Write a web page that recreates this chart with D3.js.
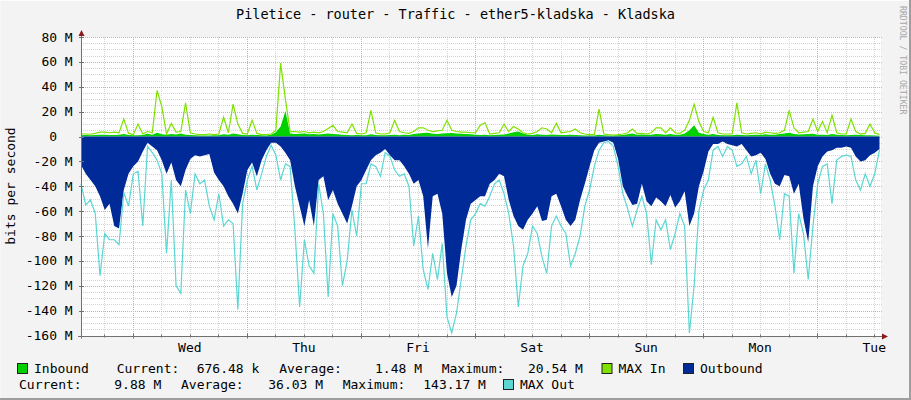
<!DOCTYPE html>
<html><head><meta charset="utf-8">
<script src="https://cdn.jsdelivr.net/npm/d3@7"></script>
<style>
html,body{margin:0;padding:0;background:#f3f3f3;}
svg{display:block;}
text{font-family:"DejaVu Sans Mono",monospace;fill:#000;}
</style>
</head><body>
<svg id="c" width="911" height="400"></svg>
<script>
// ---- data (Mbit/s, hourly samples, one week) ----
const outbound = [23,30,35,40,48,59,54,72,74,43,
30,24,20,12,5,8,11,19,30,21,
35,40,27,18,15,16,15,14,29,35,
40,48,54,62,46,27,21,32,19,11,
5,5,8,13,19,40,56,72,51,72,
35,32,51,43,54,62,70,56,40,35,
27,19,15,13,10,15,19,19,24,30,
38,35,48,90,48,46,62,110,129,120,
91,67,54,51,48,48,38,35,30,32,
51,64,72,75,67,62,56,68,67,48,
46,56,67,72,67,51,38,24,11,5,
4,3,5,18,40,48,55,54,38,52,
56,49,52,56,47,57,52,44,72,62,
40,28,12,6,6,4,6,7,8,6,
11,16,15,13,18,30,38,40,31,32,
46,38,66,85,40,24,16,12,11,9,
9,8,9,16,20,19,15,13,10];
const maxOut = [38,55,51,62,112,78,83,83,87,45,
56,30,28,72,8,13,19,30,94,35,
120,126,43,62,30,38,35,56,67,46,
72,67,70,139,54,35,24,43,30,16,
7,15,35,22,24,75,137,83,104,110,
38,62,129,62,72,120,100,59,80,38,
38,22,24,32,13,16,27,32,30,40,
88,64,107,123,94,115,86,145,158,142,
115,88,67,62,54,56,48,38,35,46,
62,88,137,104,94,72,78,97,110,72,
64,72,78,104,94,80,56,43,24,11,
5,4,8,24,46,58,72,59,48,62,
103,67,75,67,91,78,62,72,158,120,
60,43,35,11,8,16,8,11,24,22,
16,30,19,46,22,35,56,83,46,48,
110,62,78,115,72,38,24,22,54,19,
16,15,16,35,43,30,40,30,11];
const inbound = [1.0,1.2,1.1,1.3,1.5,1.4,1.2,1.3,1.5,2.0,
1.2,1.0,1.1,1.3,2.2,1.5,3.0,1.8,1.4,2.0,
1.6,2.4,1.5,1.2,1.0,0.9,0.8,0.9,1.0,1.1,
1.8,1.5,2.5,1.8,1.2,1.0,1.4,1.2,1.0,0.9,
1.5,3.5,8.0,20.5,2.5,2.0,2.2,2.5,1.8,2.0,
1.6,2.0,2.4,2.0,1.8,1.5,1.2,1.0,1.3,1.1,
1.0,1.8,1.2,1.0,1.0,1.2,1.5,1.0,1.4,1.2,
2.0,2.5,2.8,3.0,2.2,2.0,2.4,2.6,2.8,2.5,
2.2,2.0,1.8,1.5,1.2,1.5,1.0,1.2,1.4,1.6,
2.5,3.5,4.0,2.5,1.5,1.2,1.8,1.5,1.3,1.6,
1.5,1.2,1.3,1.5,1.2,1.0,0.9,0.8,0.9,1.5,
1.0,0.9,0.8,1.0,1.2,1.8,2.5,1.5,1.6,1.4,
1.5,2.0,1.8,1.5,2.0,1.5,1.4,2.5,5.0,9.0,
3.0,2.0,1.5,2.0,1.2,1.0,1.1,1.0,1.5,1.3,
1.0,1.2,1.5,1.3,1.8,1.5,1.4,2.0,2.5,3.0,
2.0,1.6,1.8,2.0,2.2,1.5,1.4,1.3,2.0,1.5,
1.2,1.0,1.3,1.5,1.2,1.1,1.0,0.9,0.7];
const maxIn = [2.0,2.0,1.8,2.5,3.5,3.5,3.0,3.5,3.0,14.0,
2.5,1.5,10.0,2.0,4.0,3.0,37.0,24.0,2.0,10.5,
3.5,4.0,27.0,3.0,2.0,1.5,1.5,2.0,1.5,2.0,
15.5,3.0,26.0,10.0,2.5,2.0,13.0,2.5,1.5,1.5,
2.0,5.0,59.0,30.0,4.0,4.0,3.5,4.0,3.0,3.5,
3.0,4.0,6.5,9.0,4.0,3.5,3.0,10.0,2.5,2.0,
3.0,21.0,3.0,2.0,2.0,3.0,13.0,4.0,3.0,2.5,
4.0,7.0,7.0,5.0,4.0,4.5,5.0,13.0,5.0,4.0,
3.5,3.5,3.0,3.0,9.0,11.0,2.0,2.5,3.0,10.0,
4.0,8.0,6.0,3.0,2.0,2.5,4.0,7.0,6.0,3.0,
10.5,3.0,3.5,4.0,6.0,3.0,2.0,1.5,1.5,22.0,
2.0,1.5,1.2,1.5,2.0,3.0,6.0,2.5,2.5,2.0,
3.0,7.0,7.0,3.0,7.0,3.0,2.5,5.0,13.0,26.0,
12.0,4.0,3.0,15.5,3.0,2.0,2.0,2.0,27.0,3.0,
2.0,2.5,3.0,2.0,3.5,3.0,2.5,3.0,5.0,21.0,
7.0,3.0,3.5,4.0,14.0,4.0,12.0,3.0,17.0,3.0,
2.0,2.0,14.0,4.0,2.0,2.5,10.0,3.0,1.5];
const yTickValues = [80,60,40,20,0,-20,-40,-60,-80,-100,-120,-140,-160];
const titleText = "Piletice - router - Traffic - ether5-kladska - Kladska";
const legendRow1 = [["Current:",116.7],["676.48 k",196.7],["Average:",279.3],["1.48 M",375],["Maximum:",441.7],["20.54 M",528]];
const legendRow2 = [["Current:",19],["9.88 M",114.3],["Average:",181],["36.03 M",268.3],["Maximum:",342.7],["143.17 M",423.3]];
const legendKeys = [
  {name:"Inbound", color:"#00CF00", bx:17.5, row:0},
  {name:"MAX In", color:"#7EE100", bx:602, row:0},
  {name:"Outbound", color:"#002A97", bx:683.5, row:0},
  {name:"MAX Out", color:"#5BD6D3", bx:503.5, row:1}
];

// ---- drawing ----
const svg = d3.select("#c");
const W = 911, H = 400;
const L = 81, R = 881, T = 37, B = 335.5;
const start = new Date(2024, 0, 2, 13, 6);
const end = d3.timeHour.offset(start, 168);
const times = outbound.map((_, i) => d3.timeHour.offset(start, i));
const x = d3.scaleTime().domain([start, end]).range([L, 879.5]);
const y = d3.scaleLinear().domain([-160, 80]).range([B, T]);
const px = v => Math.round(v) + 0.5;

// background & frame
svg.append("rect").attr("width", W).attr("height", H).attr("fill", "#f3f3f3");
svg.append("path").attr("d", `M0,${H-0.5}V0.5H${W-0.5}`).attr("stroke", "#fcfcfc").attr("fill", "none");
svg.append("path").attr("d", `M${W-1},0V${H-1}H0`).attr("stroke", "#9e9e9e").attr("stroke-width", 2).attr("fill", "none");

// canvas
svg.append("rect").attr("x", L).attr("y", T).attr("width", R - L).attr("height", B - T + 1).attr("fill", "#ffffff");

const grid = svg.append("g");
d3.range(-160, 80.001, 5).forEach(v => {
  if (v % 20 === 0) return;
  grid.append("line").attr("x1", L).attr("x2", R + 2).attr("y1", px(y(v))).attr("y2", px(y(v)))
    .attr("stroke", "#d4d4d4").attr("stroke-dasharray", "1,1");
});
d3.timeHour.every(6).range(start, end).forEach(t => {
  if (t.getHours() === 0) return;
  grid.append("line").attr("x1", px(x(t))).attr("x2", px(x(t))).attr("y1", T).attr("y2", B)
    .attr("stroke", "#d4d4d4").attr("stroke-dasharray", "1,1");
});
yTickValues.forEach(v => {
  grid.append("line").attr("x1", L).attr("x2", R + 2).attr("y1", px(y(v))).attr("y2", px(y(v)))
    .attr("stroke", "#f0a0a0").attr("stroke-dasharray", "1,1");
});
d3.timeDay.range(start, end).forEach(t => {
  grid.append("line").attr("x1", px(x(t))).attr("x2", px(x(t))).attr("y1", T).attr("y2", B)
    .attr("stroke", "#f0a0a0").attr("stroke-dasharray", "1,1");
});

// data
const curve = d3.curveLinear;
const y0 = y(0);
svg.append("path").datum(inbound)
  .attr("d", d3.area().curve(curve).x((d, i) => x(times[i])).y0(y0).y1(d => y(d)))
  .attr("fill", "#00CF00");
svg.append("path").datum(maxIn)
  .attr("d", d3.line().curve(curve).x((d, i) => x(times[i])).y(d => y(d)))
  .attr("fill", "none").attr("stroke", "#7EE100").attr("stroke-width", 1.2);
svg.append("path").datum(outbound)
  .attr("d", d3.area().curve(curve).x((d, i) => x(times[i])).y0(y0).y1(d => y(-d)))
  .attr("fill", "#002A97");
svg.append("path").datum(maxOut)
  .attr("d", d3.line().curve(curve).x((d, i) => x(times[i])).y(d => y(-d)))
  .attr("fill", "none").attr("stroke", "#5BD6D3").attr("stroke-width", 1.2);

// axes
svg.append("line").attr("x1", L + 0.5).attr("x2", L + 0.5).attr("y1", B + 3).attr("y2", T - 3)
  .attr("stroke", "#707070");
svg.append("path").attr("d", `M${L - 2.5},${T - 1}L${L + 3.5},${T - 1}L${L + 0.5},${T - 7}Z`).attr("fill", "#8b1a1a");
svg.append("line").attr("x1", L - 3).attr("x2", R + 2).attr("y1", px(B)).attr("y2", px(B))
  .attr("stroke", "#707070");
svg.append("path").attr("d", `M${R + 1},${px(B) - 3}L${R + 1},${px(B) + 3}L${R + 7},${px(B)}Z`).attr("fill", "#8b1a1a");
yTickValues.forEach(v => {
  svg.append("line").attr("x1", L - 2).attr("x2", L + 3).attr("y1", px(y(v))).attr("y2", px(y(v))).attr("stroke", "#707070");
});
d3.timeHour.every(6).range(start, end).forEach(t => {
  const big = t.getHours() === 0;
  svg.append("line").attr("x1", px(x(t))).attr("x2", px(x(t))).attr("y1", B - (big ? 2 : 1)).attr("y2", B + (big ? 3 : 2)).attr("stroke", "#707070");
});

// y tick labels
yTickValues.forEach(v => {
  svg.append("text").attr("x", v === 0 ? 72.7 - 15.66 : 72.7).attr("y", y(v) + 4.5)
    .attr("text-anchor", "end").attr("font-size", 13)
    .text(v === 0 ? "0" : `${v} M`);
});
// day labels
const fmt = d3.timeFormat("%a");
d3.timeDay.range(start, end).forEach(d => {
  const noon = d3.timeHour.offset(d, 12);
  svg.append("text").attr("x", x(noon)).attr("y", 351.5).attr("text-anchor", "middle")
    .attr("font-size", 13).text(fmt(noon));
});

// title
svg.append("text").attr("x", 455.5).attr("y", 19).attr("text-anchor", "middle").attr("font-size", 13.5).text(titleText);
// y axis title
svg.append("text").attr("transform", "translate(14.5,186) rotate(-90)").attr("text-anchor", "middle")
  .attr("font-size", 13).text("bits per second");
// watermark
svg.append("text").attr("transform", "translate(900,6) rotate(90)").attr("font-size", 8.2)
  .style("fill", "#a8a8a8").text("RRDTOOL / TOBI OETIKER");

// legend
const rowY = [372.5, 388.5];
const boxY = [363.5, 379.5];
legendKeys.forEach(k => {
  svg.append("rect").attr("x", k.bx).attr("y", boxY[k.row]).attr("width", 10).attr("height", 10)
    .attr("fill", k.color).attr("stroke", "#222").attr("stroke-width", 1);
  svg.append("text").attr("x", k.bx + 16.5).attr("y", rowY[k.row]).attr("font-size", 13).text(k.name);
});
legendRow1.forEach(([s, xx]) => svg.append("text").attr("x", xx).attr("y", rowY[0]).attr("font-size", 13).text(s));
legendRow2.forEach(([s, xx]) => svg.append("text").attr("x", xx).attr("y", rowY[1]).attr("font-size", 13).text(s));
</script>
</body></html>
